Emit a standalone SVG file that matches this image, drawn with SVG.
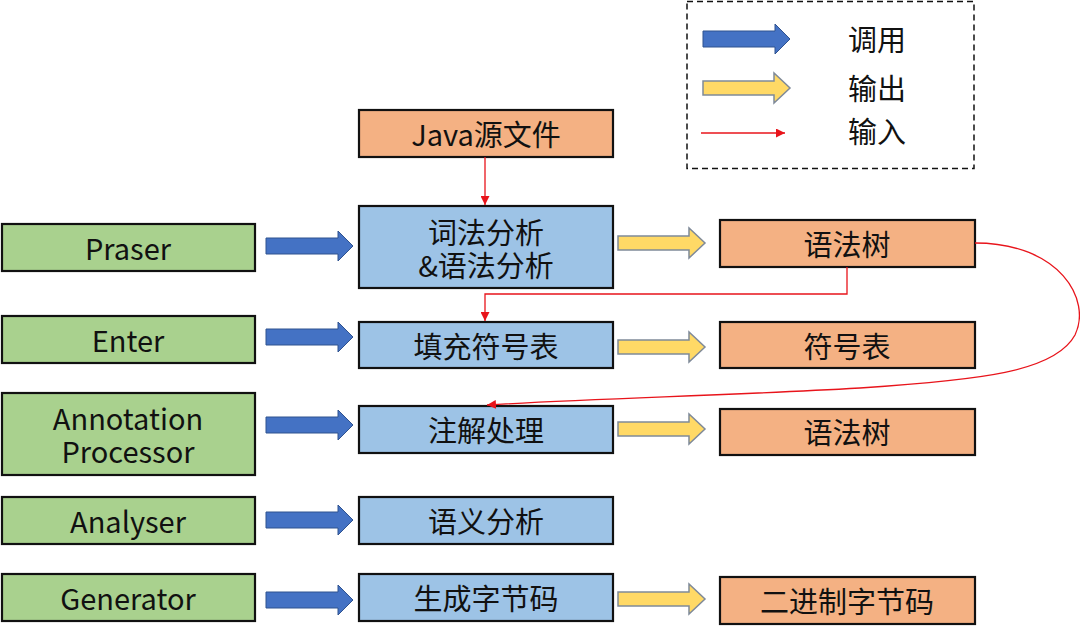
<svg xmlns="http://www.w3.org/2000/svg" width="1080" height="636" viewBox="0 0 1080 636">
<style>
.box{stroke:#111;stroke-width:2.2}
.g{fill:#A9D18E}
.b{fill:#9DC3E6}
.o{fill:#F4B183}
.t{font-family:"Noto Sans CJK SC","Noto Sans",sans-serif;font-size:29px;fill:#111;text-anchor:middle;dominant-baseline:central}
.lt{font-family:"Noto Sans CJK SC","Noto Sans",sans-serif;font-size:29px;fill:#111;dominant-baseline:central}
.red{fill:none;stroke:#E8141B;stroke-width:1.3}
.call{fill:#4472C4;stroke:#2F528F;stroke-width:1}
.out{fill:#FFD966;stroke:#7F8A99;stroke-width:1.5}
</style>
<defs>
<marker id="ra" viewBox="0 0 10 10" refX="10" refY="5" markerWidth="9" markerHeight="9" markerUnits="userSpaceOnUse" orient="auto">
<path d="M0,0 L10,5 L0,10 Z" fill="#E8141B"/>
</marker>
<path id="blueArrow" class="call" d="M0,-8 H72 V-15 L87,0 L72,15 V8 H0 Z"/>
<path id="yellowArrow" class="out" d="M0,-7 H71 V-15 L87,0 L71,15 V7 H0 Z"/>
</defs>
<rect width="1080" height="636" fill="#fff"/>

<g id="legend">
<rect x="687" y="1.5" width="287" height="167" fill="none" stroke="#111" stroke-width="1.5" stroke-dasharray="6,4"/>
<use href="#blueArrow" transform="translate(703,39)"/>
<use href="#yellowArrow" transform="translate(703,88)"/>
<line x1="701" y1="133" x2="785" y2="133" class="red" marker-end="url(#ra)"/>
<text class="lt" x="848" y="38">调用</text>
<text class="lt" x="848" y="87">输出</text>
<text class="lt" x="848" y="130">输入</text>
</g>

<g id="n-java"><rect class="box o" x="359" y="110" width="254" height="47"/><text class="t" x="486" y="133">Java源文件</text></g>

<g id="n-praser"><rect class="box g" x="2" y="224" width="253" height="47"/><text class="t" x="128" y="247">Praser</text></g>
<g id="n-enter"><rect class="box g" x="2" y="316" width="253" height="47"/><text class="t" x="128" y="339">Enter</text></g>
<g id="n-annotation"><rect class="box g" x="2" y="393" width="253" height="82"/><text class="t" x="128" y="417"><tspan x="128" y="417">Annotation</tspan><tspan x="128" y="450">Processor</tspan></text></g>
<g id="n-analyser"><rect class="box g" x="2" y="497" width="253" height="47"/><text class="t" x="128" y="520">Analyser</text></g>
<g id="n-generator"><rect class="box g" x="2" y="574" width="253" height="47"/><text class="t" x="128" y="597">Generator</text></g>

<g id="n-parse"><rect class="box b" x="359" y="206" width="254" height="82"/><text class="t" x="486" y="231"><tspan x="486" y="231">词法分析</tspan><tspan x="486" y="264">&amp;语法分析</tspan></text></g>
<g id="n-enter-sym"><rect class="box b" x="359" y="322" width="254" height="46"/><text class="t" x="486" y="345">填充符号表</text></g>
<g id="n-annot"><rect class="box b" x="359" y="406" width="254" height="47"/><text class="t" x="486" y="429">注解处理</text></g>
<g id="n-attr"><rect class="box b" x="359" y="497" width="254" height="47"/><text class="t" x="486" y="520">语义分析</text></g>
<g id="n-gen"><rect class="box b" x="359" y="574" width="254" height="47"/><text class="t" x="486" y="597">生成字节码</text></g>

<g id="n-tree1"><rect class="box o" x="720" y="220" width="255" height="47"/><text class="t" x="847" y="243">语法树</text></g>
<g id="n-symtab"><rect class="box o" x="720" y="322" width="255" height="46"/><text class="t" x="847" y="345">符号表</text></g>
<g id="n-tree2"><rect class="box o" x="720" y="409" width="255" height="46"/><text class="t" x="847" y="431">语法树</text></g>
<g id="n-bytecode"><rect class="box o" x="720" y="577" width="255" height="47"/><text class="t" x="847" y="600">二进制字节码</text></g>

<g id="connectors">
<use href="#blueArrow" transform="translate(266,246)"/>
<use href="#blueArrow" transform="translate(266,337)"/>
<use href="#blueArrow" transform="translate(266,425)"/>
<use href="#blueArrow" transform="translate(266,520)"/>
<use href="#blueArrow" transform="translate(266,600)"/>
<use href="#yellowArrow" transform="translate(618,243)"/>
<use href="#yellowArrow" transform="translate(618,347)"/>
<use href="#yellowArrow" transform="translate(618,429)"/>
<use href="#yellowArrow" transform="translate(618,599)"/>
<line class="red" x1="485" y1="157" x2="485" y2="205" marker-end="url(#ra)"/>
<path class="red" d="M847,267 V294 H485 V321" marker-end="url(#ra)"/>
<path class="red" d="M975,243 C1060,243 1092,300 1075,335 C1055,372 980,380 860,388 C720,396 600,398 487,405" marker-end="url(#ra)"/>
</g>
</svg>
